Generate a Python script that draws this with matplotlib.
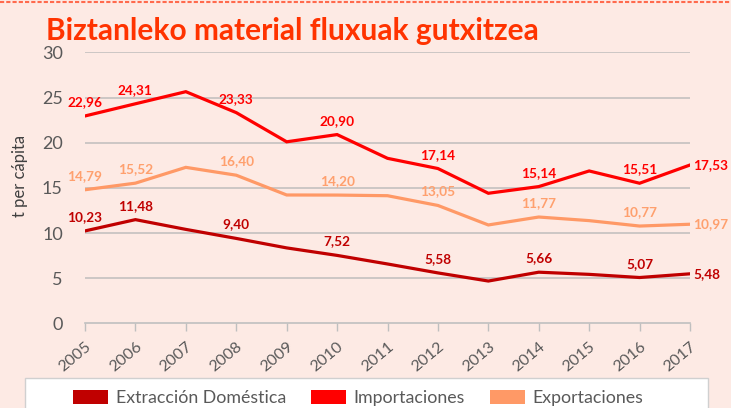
import matplotlib
matplotlib.use("Agg")
import matplotlib.pyplot as plt
from matplotlib.patches import Patch, Rectangle
from matplotlib.lines import Line2D

years = [2005, 2006, 2007, 2008, 2009, 2010, 2011, 2012, 2013, 2014, 2015, 2016, 2017]
extraccion = [10.23, 11.48, 10.40, 9.40, 8.35, 7.52, 6.57, 5.58, 4.68, 5.66, 5.42, 5.07, 5.48]
importaciones = [22.96, 24.31, 25.65, 23.33, 20.10, 20.90, 18.27, 17.14, 14.40, 15.14, 16.87, 15.51, 17.53]
exportaciones = [14.79, 15.52, 17.27, 16.40, 14.21, 14.20, 14.13, 13.05, 10.89, 11.77, 11.37, 10.77, 10.97]
labelled_years = [2005, 2006, 2008, 2010, 2012, 2014, 2016, 2017]

series_names = ["Extracción Doméstica", "Importaciones", "Exportaciones"]
series_colors = ["#C00000", "#FF0000", "#FF9966"]
label_colors = ["#C00000", "#FF0000", "#FFA06E"]
title = "Biztanleko material fluxuak gutxitzea"
ylabel = "t per cápita"

bg = "#FDEAE4"
W, H = 731, 408
fig = plt.figure(figsize=(W / 100, H / 100), dpi=100, facecolor=bg)
font = ["Lato", "DejaVu Sans"]
plt.rcParams["font.family"] = font

ax = fig.add_axes([85 / W, 1 - 323.3 / H, (690 - 85) / W, (323.3 - 52.4) / H])
ax.set_facecolor(bg)

for vals, col, lcol in zip([extraccion, importaciones, exportaciones], series_colors, label_colors):
    ax.plot(years, vals, color=col, lw=2.3, solid_joinstyle="miter", zorder=3)
    for y, v in zip(years, vals):
        if y not in labelled_years:
            continue
        txt = f"{v:.2f}".replace(".", ",")
        if y == years[-1]:
            ax.annotate(txt, (y, v), xytext=(2.5, 0), textcoords="offset points",
                        ha="left", va="center", color=lcol, fontsize=9.8,
                        fontweight="bold", annotation_clip=False, zorder=4)
        else:
            ax.annotate(txt, (y, v), xytext=(0, 10), textcoords="offset points",
                        ha="center", va="center", color=lcol, fontsize=9.8,
                        fontweight="bold", annotation_clip=False, zorder=4)

ax.set_xlim(years[0], years[-1])
ax.set_ylim(0, 30)
ax.set_yticks(range(0, 31, 5))
ax.set_xticks(years)
ax.set_xticklabels([str(y) for y in years], rotation=40, ha="right", va="top",
                   rotation_mode="anchor", fontsize=11.5, color="#595959")
ax.tick_params(axis="y", length=0, pad=16, labelsize=13, labelcolor="#595959")
ax.tick_params(axis="x", length=6, width=1, color="#BFBFBF", pad=6)
for s in ["top", "right", "left"]:
    ax.spines[s].set_visible(False)
ax.spines["bottom"].set_color("#BFBFBF")
ax.spines["bottom"].set_linewidth(1.2)
ax.yaxis.grid(True, color="#C8C4C2", lw=1.3)
ax.set_axisbelow(True)
for gl in ax.get_ygridlines()[:1]:
    gl.set_visible(False)

fig.text(20 / W, 1 - 176 / H, ylabel, rotation=90, ha="center", va="center",
         fontsize=12, color="#404040")

fig.text(46 / W, 1 - 31 / H, title, ha="left", va="center", fontsize=21.5,
         fontweight="bold", color="#FF3300")

# dashed border along the top edge
fig.add_artist(Line2D([0, 1], [1 - 2 / H, 1 - 2 / H], transform=fig.transFigure,
                      color="#FF6A4D", lw=1.5, ls=(0, (2, 1))))

# legend box
fig.add_artist(Rectangle((25 / W, -0.05), (708 - 25) / W, 0.05 + (408 - 378) / H,
                         transform=fig.transFigure, facecolor="white",
                         edgecolor="#D0D0D0", lw=1))
handles = [Patch(facecolor=c, edgecolor="none") for c in series_colors]
fig.legend(handles, series_names, loc="center", bbox_to_anchor=(358 / W, 1 - 398 / H),
           ncol=3, frameon=False, fontsize=12.8, handlelength=2.0, handleheight=0.8,
           handletextpad=0.4, columnspacing=1.4, labelcolor="#595959")

fig.savefig("out.png", dpi=100, facecolor=bg)
